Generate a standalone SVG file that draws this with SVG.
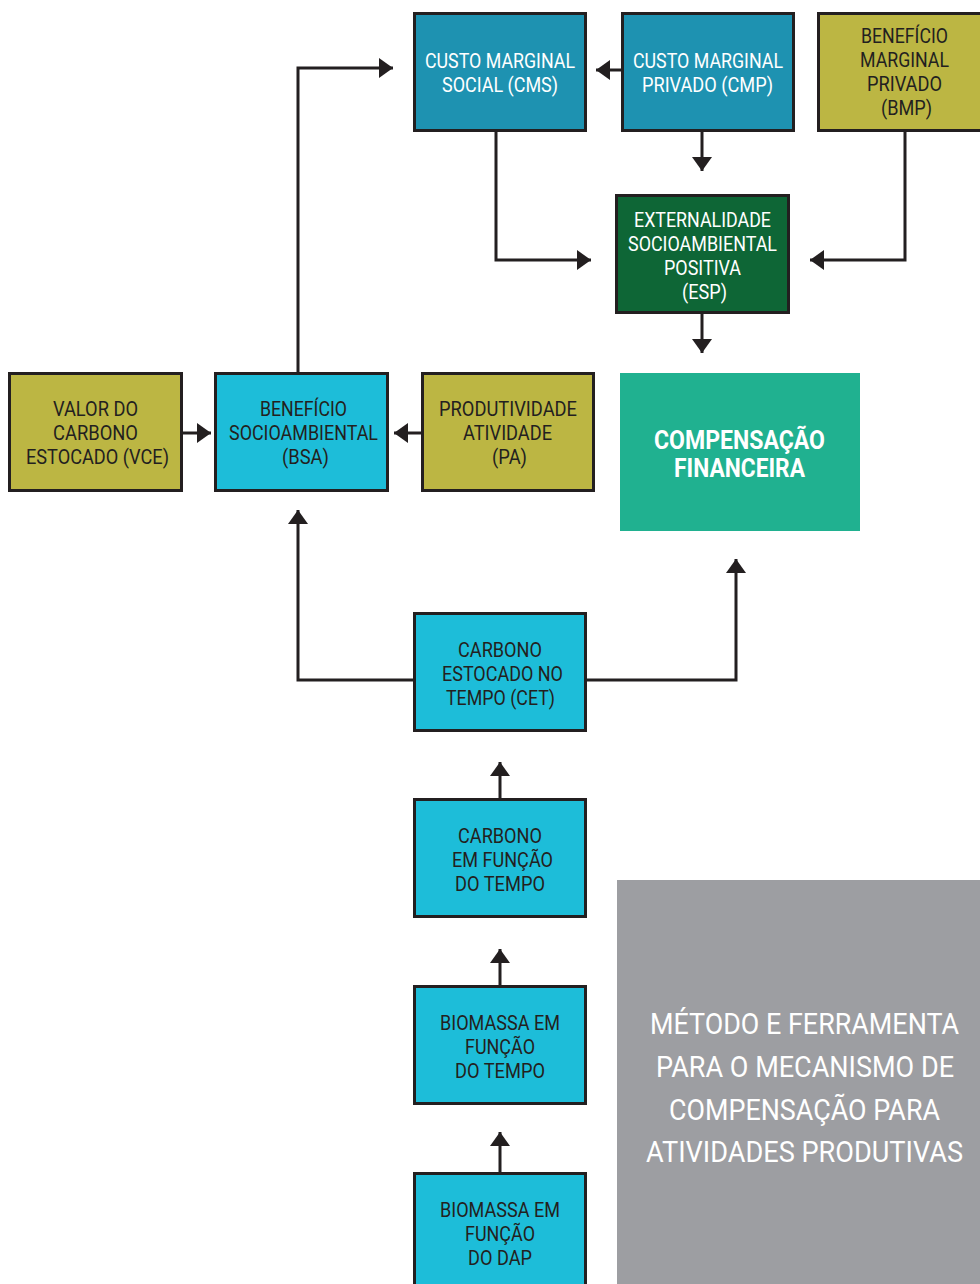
<svg xmlns="http://www.w3.org/2000/svg" width="980" height="1284" viewBox="0 0 980 1284">
<style>
.box{stroke:#231f20;stroke-width:3}
.blue{fill:#1e92b1}
.olive{fill:#bcb643}
.green{fill:#0e6636}
.cyan{fill:#1dbdd9}
.t{font-family:"Roboto","Liberation Sans",sans-serif;font-size:21px;text-anchor:middle;fill:#231f20}
.w{fill:#ffffff}
.big{font-size:25px;font-weight:bold}
.gt{font-size:30px}
.ln{fill:none;stroke:#231f20;stroke-width:3}
</style>
<defs>
<marker id="ah" viewBox="0 0 14 20" refX="14" refY="10" markerWidth="14" markerHeight="20" markerUnits="userSpaceOnUse" orient="auto">
<path d="M0,0 L14,10 L0,20 Z" fill="#231f20"/>
</marker>
</defs>
<rect width="980" height="1284" fill="#ffffff"/>
<g id="connectors">
<path class="ln" d="M622,70 H596" marker-end="url(#ah)"/>
<path class="ln" d="M702,131 V171" marker-end="url(#ah)"/>
<path class="ln" d="M496,131 V260 H591" marker-end="url(#ah)"/>
<path class="ln" d="M905,131 V260 H810" marker-end="url(#ah)"/>
<path class="ln" d="M702,313 V353" marker-end="url(#ah)"/>
<path class="ln" d="M298,373 V68 H393" marker-end="url(#ah)"/>
<path class="ln" d="M182,433 H211" marker-end="url(#ah)"/>
<path class="ln" d="M422,433 H394" marker-end="url(#ah)"/>
<path class="ln" d="M414,680 H298 V510" marker-end="url(#ah)"/>
<path class="ln" d="M586,680 H736 V559" marker-end="url(#ah)"/>
<path class="ln" d="M500,799 V762" marker-end="url(#ah)"/>
<path class="ln" d="M500,986 V949" marker-end="url(#ah)"/>
<path class="ln" d="M500,1173 V1132" marker-end="url(#ah)"/>
</g>
<g id="cms"><rect class="box blue" x="414.5" y="13.5" width="171" height="117"/>
<text class="t w" x="500" y="68" textLength="150" lengthAdjust="spacingAndGlyphs">CUSTO MARGINAL</text><text class="t w" x="500" y="92" textLength="116" lengthAdjust="spacingAndGlyphs">SOCIAL (CMS)</text></g>
<g id="cmp"><rect class="box blue" x="622.5" y="13.5" width="171" height="117"/>
<text class="t w" x="708" y="68" textLength="150" lengthAdjust="spacingAndGlyphs">CUSTO MARGINAL</text><text class="t w" x="707.5" y="92" textLength="131" lengthAdjust="spacingAndGlyphs">PRIVADO (CMP)</text></g>
<g id="bmp"><rect class="box olive" x="818.5" y="13.5" width="170" height="117"/>
<text class="t" x="904.5" y="43" textLength="87" lengthAdjust="spacingAndGlyphs">BENEFÍCIO</text><text class="t" x="904.5" y="67" textLength="89" lengthAdjust="spacingAndGlyphs">MARGINAL</text><text class="t" x="904.5" y="91" textLength="75" lengthAdjust="spacingAndGlyphs">PRIVADO</text><text class="t" x="906.5" y="115" textLength="51" lengthAdjust="spacingAndGlyphs">(BMP)</text></g>
<g id="esp"><rect class="box green" x="616.5" y="195.5" width="172" height="117"/>
<text class="t w" x="702.5" y="227" textLength="137" lengthAdjust="spacingAndGlyphs">EXTERNALIDADE</text><text class="t w" x="702.5" y="251" textLength="149" lengthAdjust="spacingAndGlyphs">SOCIOAMBIENTAL</text><text class="t w" x="702.5" y="275" textLength="77" lengthAdjust="spacingAndGlyphs">POSITIVA</text><text class="t w" x="704.5" y="299" textLength="45" lengthAdjust="spacingAndGlyphs">(ESP)</text></g>
<g id="comp"><rect fill="#20b190" x="620" y="373" width="240" height="158"/>
<text class="t w big" x="739.5" y="449" textLength="171" lengthAdjust="spacingAndGlyphs">COMPENSAÇÃO</text><text class="t w big" x="739.5" y="477" textLength="131" lengthAdjust="spacingAndGlyphs">FINANCEIRA</text></g>
<g id="vce"><rect class="box olive" x="9.5" y="373.5" width="172" height="117"/>
<text class="t" x="95.5" y="416" textLength="85" lengthAdjust="spacingAndGlyphs">VALOR DO</text><text class="t" x="95.5" y="440" textLength="85" lengthAdjust="spacingAndGlyphs">CARBONO</text><text class="t" x="97.5" y="464" textLength="143" lengthAdjust="spacingAndGlyphs">ESTOCADO (VCE)</text></g>
<g id="bsa"><rect class="box cyan" x="215.5" y="373.5" width="172" height="117"/>
<text class="t" x="303.5" y="416" textLength="87" lengthAdjust="spacingAndGlyphs">BENEFÍCIO</text><text class="t" x="303.5" y="440" textLength="149" lengthAdjust="spacingAndGlyphs">SOCIOAMBIENTAL</text><text class="t" x="305.5" y="464" textLength="47" lengthAdjust="spacingAndGlyphs">(BSA)</text></g>
<g id="pa"><rect class="box olive" x="422.5" y="373.5" width="171" height="117"/>
<text class="t" x="508" y="416" textLength="138" lengthAdjust="spacingAndGlyphs">PRODUTIVIDADE</text><text class="t" x="507.5" y="440" textLength="89" lengthAdjust="spacingAndGlyphs">ATIVIDADE</text><text class="t" x="509.5" y="464" textLength="35" lengthAdjust="spacingAndGlyphs">(PA)</text></g>
<g id="cet"><rect class="box cyan" x="414.5" y="613.5" width="171" height="117"/>
<text class="t" x="500" y="657" textLength="84" lengthAdjust="spacingAndGlyphs">CARBONO</text><text class="t" x="502.5" y="681" textLength="121" lengthAdjust="spacingAndGlyphs">ESTOCADO NO</text><text class="t" x="500.5" y="705" textLength="109" lengthAdjust="spacingAndGlyphs">TEMPO (CET)</text></g>
<g id="cft"><rect class="box cyan" x="414.5" y="799.5" width="171" height="117"/>
<text class="t" x="500" y="843" textLength="84" lengthAdjust="spacingAndGlyphs">CARBONO</text><text class="t" x="502.5" y="867" textLength="101" lengthAdjust="spacingAndGlyphs">EM FUNÇÃO</text><text class="t" x="500" y="891" textLength="90" lengthAdjust="spacingAndGlyphs">DO TEMPO</text></g>
<g id="bft"><rect class="box cyan" x="414.5" y="986.5" width="171" height="117"/>
<text class="t" x="500" y="1030" textLength="120" lengthAdjust="spacingAndGlyphs">BIOMASSA EM</text><text class="t" x="500" y="1054" textLength="70" lengthAdjust="spacingAndGlyphs">FUNÇÃO</text><text class="t" x="500" y="1078" textLength="90" lengthAdjust="spacingAndGlyphs">DO TEMPO</text></g>
<g id="bfd"><rect class="box cyan" x="414.5" y="1173.5" width="171" height="120"/>
<text class="t" x="500" y="1217" textLength="120" lengthAdjust="spacingAndGlyphs">BIOMASSA EM</text><text class="t" x="500" y="1241" textLength="70" lengthAdjust="spacingAndGlyphs">FUNÇÃO</text><text class="t" x="500" y="1265" textLength="64" lengthAdjust="spacingAndGlyphs">DO DAP</text></g>
<g id="title"><rect fill="#9d9ea2" x="617" y="880" width="363" height="404"/>
<text class="t w gt" x="804.5" y="1034" textLength="309" lengthAdjust="spacingAndGlyphs">MÉTODO E FERRAMENTA</text><text class="t w gt" x="805" y="1077" textLength="298" lengthAdjust="spacingAndGlyphs">PARA O MECANISMO DE</text><text class="t w gt" x="804.5" y="1120" textLength="271" lengthAdjust="spacingAndGlyphs">COMPENSAÇÃO PARA</text><text class="t w gt" x="804.5" y="1162" textLength="317" lengthAdjust="spacingAndGlyphs">ATIVIDADES PRODUTIVAS</text></g>
</svg>
